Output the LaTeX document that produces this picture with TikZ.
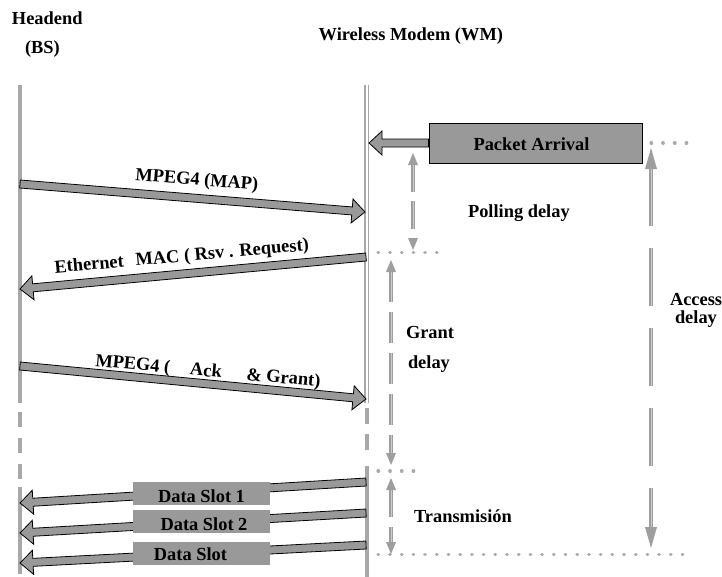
\documentclass[tikz,border=0pt]{standalone}
\usepackage{fontspec}
\setmainfont{Liberation Serif}
\usetikzlibrary{calc}
\definecolor{boxgray}{HTML}{999999}
\definecolor{linegray}{HTML}{A8A8A8}
\definecolor{dimgray2}{HTML}{9E9E9E}
\definecolor{dimcorec}{HTML}{CCCCCC}
\definecolor{dotgray}{HTML}{AAAAAA}
\tikzset{
 lbl/.style={font=\fontsize{18.4}{22}\selectfont\bfseries, inner sep=0pt, outer sep=0pt},
 msgarrow/.style={fill=boxgray, draw=black, line width=0.8pt, line join=miter},
 life/.style={draw=linegray, line width=4pt},
 lifethin/.style={draw=linegray, line width=1.6pt},
 dotline/.style={draw=dotgray, line width=3.2pt, line cap=round, dash pattern=on 0.6pt off 11.1pt},
 dimout/.style={draw=dimgray2, line width=4.5pt},
 dimin/.style={draw=dimcorec, line width=1pt},
 slotbox/.style={fill=boxgray, minimum width=137pt, minimum height=23pt, inner sep=0pt},
 pabox/.style={fill=boxgray, draw=black, line width=0.9pt, minimum width=213pt, minimum height=40pt, inner sep=0pt},
}
% block arrow: #1 from, #2 to (tip), #3 name prefix
\newcommand\blockarrow[3]{%
  \coordinate (#3h) at ($(#2)!13pt!(#1)$);
  \draw[msgarrow] ($(#1)!4pt!90:(#2)$) -- ($(#3h)!4pt!-90:(#1)$) -- ($(#3h)!12pt!-90:(#1)$) -- (#2)
     -- ($(#3h)!12pt!90:(#1)$) -- ($(#3h)!4pt!90:(#1)$) -- ($(#1)!4pt!-90:(#2)$) -- cycle;
}
% vertical dimension arrow: #1 top tip, #2 bottom tip, #3 head length, #4 half width, #5 dash pattern
\newcommand\vdim[5]{%
  \draw[dimout, dash pattern=#5] ($(#1)+(0,#3-1)$) -- ($(#2)+(0,-#3+1)$);
  \draw[dimin, dash pattern=#5] ($(#1)+(0,#3-1)$) -- ($(#2)+(0,-#3+1)$);
  \fill[dimgray2] (#1) -- ++(-#4,#3) -- ++(2*#4,0) -- cycle;
  \fill[dimgray2] (#2) -- ++(-#4,-#3) -- ++(2*#4,0) -- cycle;
}
\begin{document}
\begin{tikzpicture}[x=1pt,y=-1pt]
\useasboundingbox (0,0) rectangle (722,576);

% ---- lifelines ----
\coordinate (bsA) at (19.5,85);
\coordinate (bsB) at (19.5,403);
\coordinate (bsC) at (19.5,412);
\coordinate (bsD) at (19.5,480);
\coordinate (bsE) at (19.5,487);
\coordinate (bsF) at (19.5,574);
\draw[life] (bsA) -- (bsB);
\draw[life, dash pattern=on 15pt off 11pt] (bsC) -- (bsD);
\draw[life] (bsE) -- (bsF);

\coordinate (wmA) at (365,85);
\coordinate (wmB) at (365,403);
\coordinate (wmA2) at (368.6,85);
\coordinate (wmB2) at (368.6,403);
\coordinate (wmC) at (366.8,408);
\coordinate (wmD) at (366.8,457);
\coordinate (wmE) at (366.8,466);
\coordinate (wmF) at (366.8,577);
\draw[lifethin] (wmA) -- (wmB);
\draw[lifethin] (wmA2) -- (wmB2);
\draw[life, line width=3.6pt, dash pattern=on 16pt off 10pt] (wmC) -- (wmD);
\draw[life, line width=3.6pt] (wmE) -- (wmF);

% ---- dotted reference lines ----
\coordinate (d1a) at (651,143); \coordinate (d1b) at (688,143);
\coordinate (d2a) at (378,252.5); \coordinate (d2b) at (437,252.5);
\coordinate (d3a) at (378,471); \coordinate (d3b) at (415,471);
\coordinate (d4a) at (378,554.5); \coordinate (d4b) at (690,554.5);
\draw[dotline] (d1a) -- (d1b);
\draw[dotline] (d2a) -- (d2b);
\draw[dotline] (d3a) -- (d3b);
\draw[dotline] (d4a) -- (d4b);

% ---- dimension arrows ----
\coordinate (polT) at (413,153); \coordinate (polB) at (413,250);
\vdim{polT}{polB}{12}{5}{on 28pt off 9pt}
\coordinate (accT) at (651,148); \coordinate (accB) at (651,548);
\vdim{accT}{accB}{21}{6}{on 58pt off 22pt}
\coordinate (graT) at (391,260); \coordinate (graB) at (391,465);
\vdim{graT}{graB}{12}{5}{on 31pt off 10pt}
\coordinate (trT) at (391,478); \coordinate (trB) at (391,554);
\vdim{trT}{trB}{12}{5}{on 28pt off 10pt}

% ---- message arrows ----
\coordinate (m1s) at (20,184);  \coordinate (m1e) at (365,212);
\blockarrow{m1s}{m1e}{m1}
\coordinate (m2s) at (366,257); \coordinate (m2e) at (20,289);
\blockarrow{m2s}{m2e}{m2}
\coordinate (m3s) at (20,366);  \coordinate (m3e) at (366,399);
\blockarrow{m3s}{m3e}{m3}
\coordinate (s1s) at (366,482); \coordinate (s1e) at (20,503);
\blockarrow{s1s}{s1e}{s1}
\coordinate (s2s) at (366,513); \coordinate (s2e) at (20,533);
\blockarrow{s2s}{s2e}{s2}
\coordinate (s3s) at (366,545); \coordinate (s3e) at (20,563);
\blockarrow{s3s}{s3e}{s3}

% ---- packet arrival ----
\node[pabox] (pa) at (535.5,143) {};
\coordinate (pae) at (369,143);
\blockarrow{pa.west}{pae}{pk}
\node[pabox] (pa2) at (535.5,143) {};
\node[lbl, anchor=base] (pat) at (531.5,150) {Packet Arrival};

% ---- data slot boxes ----
\node[slotbox] (b1) at (201.5,493.5) {};
\node[slotbox] (b2) at (201.5,521.5) {};
\node[slotbox] (b3) at (201.5,553.5) {};
\node[lbl, anchor=base] (b1t) at (201.5,502) {Data Slot 1};
\node[lbl, anchor=base] (b2t) at (204,530) {Data Slot 2};
\node[lbl, anchor=base] (b3t) at (190.5,560) {Data Slot};

% ---- labels ----
\node[lbl, anchor=base west] (hd) at (12,24) {Headend};
\node[lbl, anchor=base west] (bs) at (25,53) {(BS)};
\node[lbl, anchor=base east] (wm) at (503,40) {Wireless Modem (WM)};
\node[lbl, anchor=base west] (pol) at (468,217) {Polling delay};
\node[lbl, anchor=base west] (acc) at (670,305) {Access};
\node[lbl, anchor=base west] (accd) at (675,323) {delay};
\node[lbl, anchor=base west] (gr) at (406,338) {Grant};
\node[lbl, anchor=base west] (grd) at (408,368) {delay};
\node[lbl, anchor=base west] (tr) at (414,522) {Transmisión};

\node[lbl, anchor=base west, rotate=-4.6] (t1) at (135,180) {MPEG4 (MAP)};
\node[lbl, anchor=base west, rotate=5.1] (t2) at (55,273) {Ethernet\hspace{12pt}MAC ( Rsv . Request)};
\node[lbl, anchor=base west, rotate=-5.3] (t3) at (95,366) {MPEG4 (\hspace{20pt}Ack\hspace{25pt}\& Grant)};
\end{tikzpicture}
\end{document}
